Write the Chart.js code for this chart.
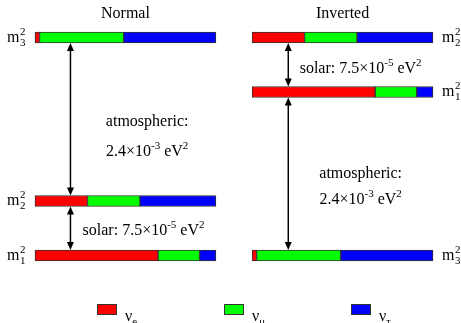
<!DOCTYPE html>
<html>
<head>
<meta charset="utf-8">
<script src="https://cdn.jsdelivr.net/npm/chart.js@4/dist/chart.umd.min.js"></script>
<style>
  body { margin: 0; background: #fff; }
  canvas { display: block; }
</style>
</head>
<body>
<canvas id="chart" width="461" height="323"></canvas>
<script>
// flavour content of each mass state (m1, m2, m3)
const states = ["1", "2", "3"];
const nuE   = [0.68, 0.29, 0.025];
const nuMu  = [0.23, 0.29, 0.465];
const nuTau = [0.09, 0.42, 0.51];

const flavorNames = ["e", "\u03bc", "\u03c4"];
const flavorColors = ["#ff0000", "#00ff00", "#0000ff"];

// schematic mass-squared positions of m1, m2, m3
const panels = ["Normal", "Inverted"];
const normalLevels = [0, 0.25, 1.0];
const invertedLevels = [0.75, 1.0, 0];
const panelOffset = [0, 1.2];

const atmText = [["2.4\u00d710", ""], ["-3", "sup"], [" eV", ""], ["2", "sup"]];
const solarText = [["solar: 7.5\u00d710", ""], ["-5", "sup"], [" eV", ""], ["2", "sup"]];

const FONT = '"Liberation Serif", "Times New Roman", serif';
const fractions = [nuE, nuMu, nuTau];
const levelSets = [normalLevels, invertedLevels];

function buildData(f) {
    const out = [];
    levelSets.forEach((levels, p) => {
        states.forEach((s, i) => {
            let start = panelOffset[p];
            for (let k = 0; k < f; k++) start += fractions[k][i];
            out.push({ y: levels[i], x: [start, start + fractions[f][i]] });
        });
    });
    return out;
}

function drawRuns(ctx, runs, x, y, align) {
    const big = "16px " + FONT, small = "11px " + FONT;
    let w = 0;
    for (const [t, m] of runs) { ctx.font = m ? small : big; w += ctx.measureText(t).width; }
    let cx = align === "center" ? x - w / 2 : x;
    ctx.textAlign = "left";
    ctx.textBaseline = "alphabetic";
    for (const [t, m] of runs) {
        ctx.font = m ? small : big;
        const dy = m === "sup" ? -7 : m === "sub" ? 4 : 0;
        ctx.fillText(t, cx, y + dy);
        cx += ctx.measureText(t).width;
    }
}

function massLabel(ctx, idx, x, y) {
    ctx.font = "16px " + FONT;
    ctx.textAlign = "left";
    ctx.textBaseline = "alphabetic";
    ctx.fillText("m", x, y);
    const w = ctx.measureText("m").width;
    ctx.font = "11px " + FONT;
    ctx.fillText("2", x + w + 0.5, y - 7);
    ctx.fillText(idx, x + w + 0.5, y + 4);
}

function arrow(ctx, x, y1, y2) {
    const h = 8, hw = 3.5;
    ctx.strokeStyle = "#000";
    ctx.fillStyle = "#000";
    ctx.lineWidth = 1.5;
    ctx.beginPath();
    ctx.moveTo(x, y1 + h - 1);
    ctx.lineTo(x, y2 - h + 1);
    ctx.stroke();
    ctx.beginPath();
    ctx.moveTo(x, y1); ctx.lineTo(x - hw, y1 + h); ctx.lineTo(x + hw, y1 + h); ctx.closePath();
    ctx.fill();
    ctx.beginPath();
    ctx.moveTo(x, y2); ctx.lineTo(x - hw, y2 - h); ctx.lineTo(x + hw, y2 - h); ctx.closePath();
    ctx.fill();
}

const labelsPlugin = {
    id: "labels",
    afterDatasetsDraw(chart) {
        const ctx = chart.ctx;
        const xs = chart.scales.x, ys = chart.scales.y;
        const half = 5.5;
        ctx.save();
        ctx.fillStyle = "#000";

        // panel titles
        panels.forEach((name, p) => {
            drawRuns(ctx, [[name, ""]], xs.getPixelForValue(panelOffset[p] + 0.5), 18, "center");
        });

        // mass state labels
        states.forEach((s, i) => {
            massLabel(ctx, s, 7, ys.getPixelForValue(normalLevels[i]) + 4);
            massLabel(ctx, s, 442, ys.getPixelForValue(invertedLevels[i]) + 4);
        });

        // splitting arrows
        const ax0 = xs.getPixelForValue(panelOffset[0] + 0.196);
        arrow(ctx, ax0, ys.getPixelForValue(normalLevels[2]) + half, ys.getPixelForValue(normalLevels[1]) - half);
        arrow(ctx, ax0, ys.getPixelForValue(normalLevels[1]) + half, ys.getPixelForValue(normalLevels[0]) - half);
        const ax1 = xs.getPixelForValue(panelOffset[1] + 0.2);
        arrow(ctx, ax1, ys.getPixelForValue(invertedLevels[1]) + half, ys.getPixelForValue(invertedLevels[0]) - half);
        arrow(ctx, ax1, ys.getPixelForValue(invertedLevels[0]) + half, ys.getPixelForValue(invertedLevels[2]) - half);

        // splitting values
        const cx0 = xs.getPixelForValue(panelOffset[0] + 0.62);
        const cs0 = xs.getPixelForValue(panelOffset[0] + 0.6);
        const cx1 = xs.getPixelForValue(panelOffset[1] + 0.6);
        drawRuns(ctx, [["atmospheric:", ""]], cx0, ys.getPixelForValue(0.594), "center");
        drawRuns(ctx, atmText, cx0, ys.getPixelForValue(0.457), "center");
        drawRuns(ctx, solarText, cs0, ys.getPixelForValue(0.094), "center");
        drawRuns(ctx, [["atmospheric:", ""]], cx1, ys.getPixelForValue(0.355), "center");
        drawRuns(ctx, atmText, cx1, ys.getPixelForValue(0.236), "center");
        drawRuns(ctx, solarText, cx1, ys.getPixelForValue(0.837), "center");

        // legend
        flavorNames.forEach((n, f) => {
            const bx = 97 + f * 127;
            ctx.fillStyle = flavorColors[f];
            ctx.fillRect(bx, 304, 20, 11);
            ctx.strokeStyle = "#333";
            ctx.lineWidth = 1;
            ctx.strokeRect(bx + 0.5, 304.5, 19, 10);
            ctx.fillStyle = "#000";
            drawRuns(ctx, [["\u03bd", ""], [n, "sub"]], bx + 28, 321, "left");
        });
        ctx.restore();
    }
};

new Chart(document.getElementById("chart"), {
    type: "bar",
    data: {
        datasets: flavorNames.map((n, f) => ({
            label: "\u03bd" + n,
            data: buildData(f),
            backgroundColor: flavorColors[f],
            borderColor: "#333",
            borderWidth: 1,
            borderSkipped: false,
            barThickness: 11,
            grouped: false,
            clip: false
        }))
    },
    options: {
        indexAxis: "y",
        responsive: false,
        animation: false,
        layout: { padding: { left: 35, right: 28, top: 37.5, bottom: 67.5 } },
        scales: {
            x: { type: "linear", min: 0, max: 2.2, display: false },
            y: { type: "linear", min: 0, max: 1, display: false, offset: false }
        },
        plugins: { legend: { display: false }, tooltip: { enabled: false } }
    },
    plugins: [labelsPlugin]
});
</script>
</body>
</html>
